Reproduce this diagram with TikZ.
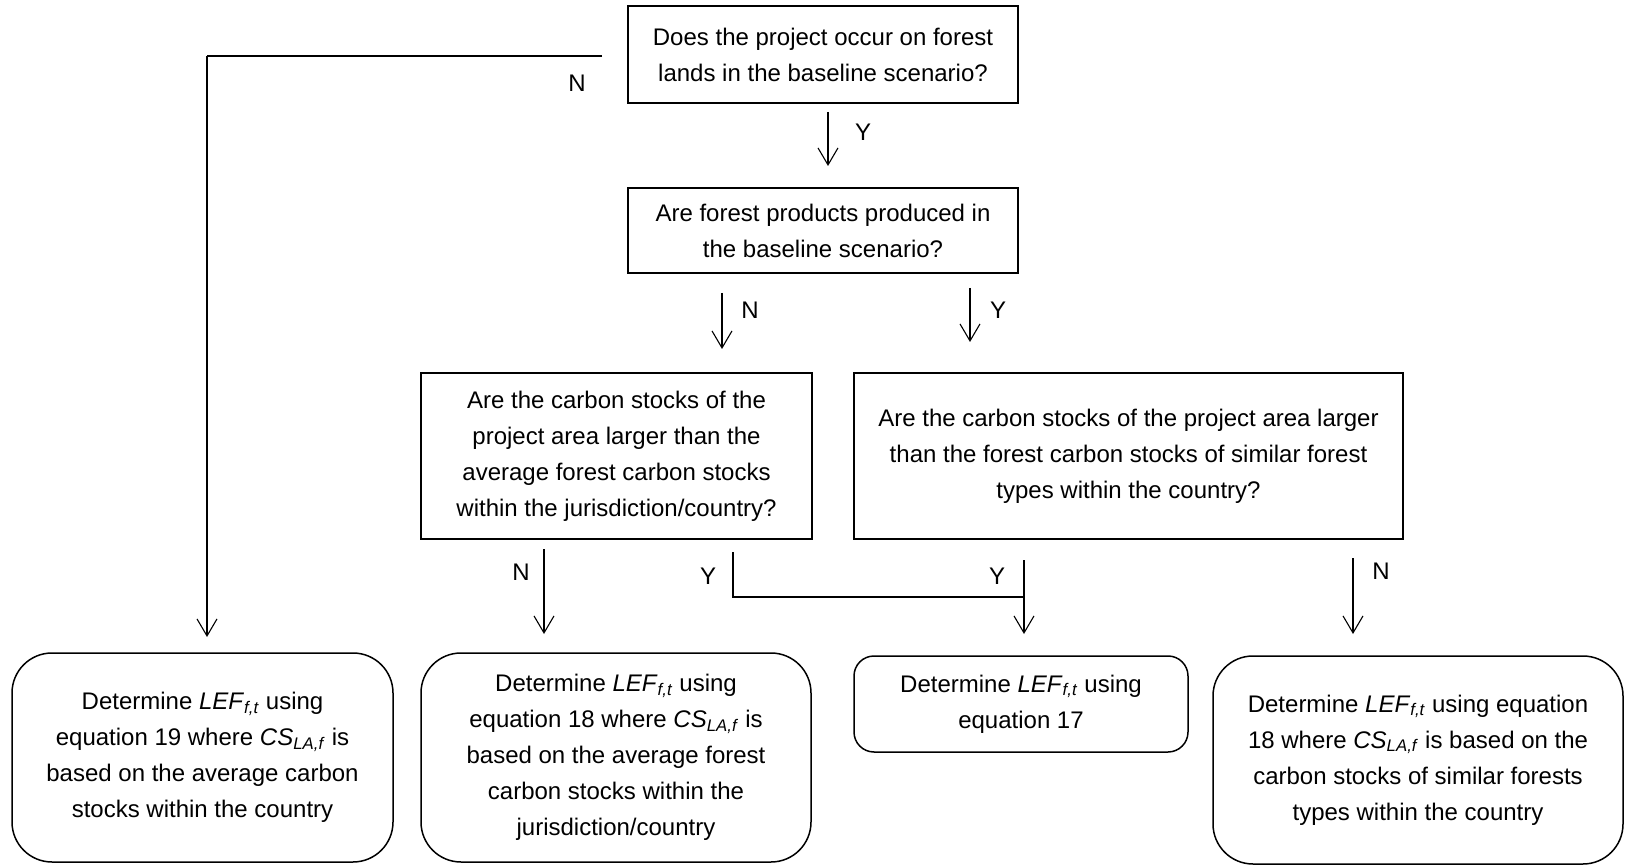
\documentclass[tikz,border=0pt]{standalone}
\usepackage{fontspec}
\setmainfont{Liberation Sans}
\usetikzlibrary{arrows.meta}
\newcommand{\LEF}{\textit{LEF}\textsubscript{\textit{f,t}}}
\newcommand{\CSLA}{\textit{CS}\textsubscript{\textit{LA,f}}}
\begin{document}
\begin{tikzpicture}[x=1pt,y=-1pt,
  every node/.style={font=\fontsize{24}{36}\selectfont},
  qbox/.style={draw,line width=1.5pt,inner sep=0pt,align=center},
  rbox/.style={draw,line width=1.5pt,inner sep=0pt,align=center,rounded corners=40pt},
  sbox/.style={draw,line width=1.5pt,inner sep=0pt,align=center,rounded corners=20pt},
  arr/.style={line width=1.1pt,-{Straight Barb[length=17pt,width=20pt,line width=1.1pt]}},
  ln/.style={line width=1.5pt},
  lbl/.style={inner sep=0pt}]
\useasboundingbox (0,0) rectangle (1625,866);
% decision boxes
\node[qbox,minimum width=390pt,minimum height=97pt] (q1) at (823,54.5)
  {Does the project occur on forest\\lands in the baseline scenario?};
\node[qbox,minimum width=390pt,minimum height=85pt] (q2) at (823,230.5)
  {Are forest products produced in\\the baseline scenario?};
\node[qbox,minimum width=391pt,minimum height=166pt] (q3) at (616.5,456)
  {Are the carbon stocks of the\\project area larger than the\\average forest carbon stocks\\within the jurisdiction/country?};
\node[qbox,minimum width=549pt,minimum height=166pt] (q4) at (1128.5,456)
  {Are the carbon stocks of the project area larger\\than the forest carbon stocks of similar forest\\types within the country?};
% result boxes
\node[rbox,minimum width=381pt,minimum height=209pt] (rA) at (202.5,757.5)
  {Determine \LEF{} using\\equation 19 where \CSLA{} is\\based on the average carbon\\stocks within the country};
\node[rbox,minimum width=390pt,minimum height=209pt] (rB) at (616,757.5)
  {Determine \LEF{} using\\equation 18 where \CSLA{} is\\based on the average forest\\carbon stocks within the\\jurisdiction/country};
\node[sbox,minimum width=334pt,minimum height=96pt] (rC) at (1021,704)
  {Determine \LEF{} using\\equation 17};
\node[rbox,minimum width=410pt,minimum height=208pt] (rD) at (1418,760)
  {Determine \LEF{} using equation\\18 where \CSLA{} is based on the\\carbon stocks of similar forests\\types within the country};
% connector coordinates
\coordinate (a1s) at (602,56);
\coordinate (a1c) at (207,56);
\coordinate (a1e) at (207,637);
\coordinate (y1s) at (828,112);
\coordinate (y1e) at (828,166);
\coordinate (n2s) at (722,293);
\coordinate (n2e) at (722,349);
\coordinate (y2s) at (970,288);
\coordinate (y2e) at (970,342);
\coordinate (n3s) at (544,549);
\coordinate (n3e) at (544,634);
\coordinate (y3s) at (733,552);
\coordinate (y3c) at (733,597);
\coordinate (y3e) at (1024,597);
\coordinate (y4s) at (1024,560);
\coordinate (y4e) at (1024,634);
\coordinate (n4s) at (1353,558);
\coordinate (n4e) at (1353,634);
% connectors
\draw[ln] (a1s) -- (a1c);
\draw[arr] (a1c) -- (a1e);
\draw[arr] (y1s) -- (y1e);
\draw[arr] (n2s) -- (n2e);
\draw[arr] (y2s) -- (y2e);
\draw[arr] (n3s) -- (n3e);
\draw[ln] (y3s) -- (y3c) -- (y3e);
\draw[arr] (y4s) -- (y4e);
\draw[arr] (n4s) -- (n4e);
% labels
\node[lbl] (lN1) at (577,83) {N};
\node[lbl] (lY1) at (863,132) {Y};
\node[lbl] (lN2) at (750,310) {N};
\node[lbl] (lY2) at (998,310) {Y};
\node[lbl] (lN3) at (521,572) {N};
\node[lbl] (lY3) at (708,576) {Y};
\node[lbl] (lY4) at (997,576) {Y};
\node[lbl] (lN4) at (1381,571) {N};
\end{tikzpicture}
\end{document}
